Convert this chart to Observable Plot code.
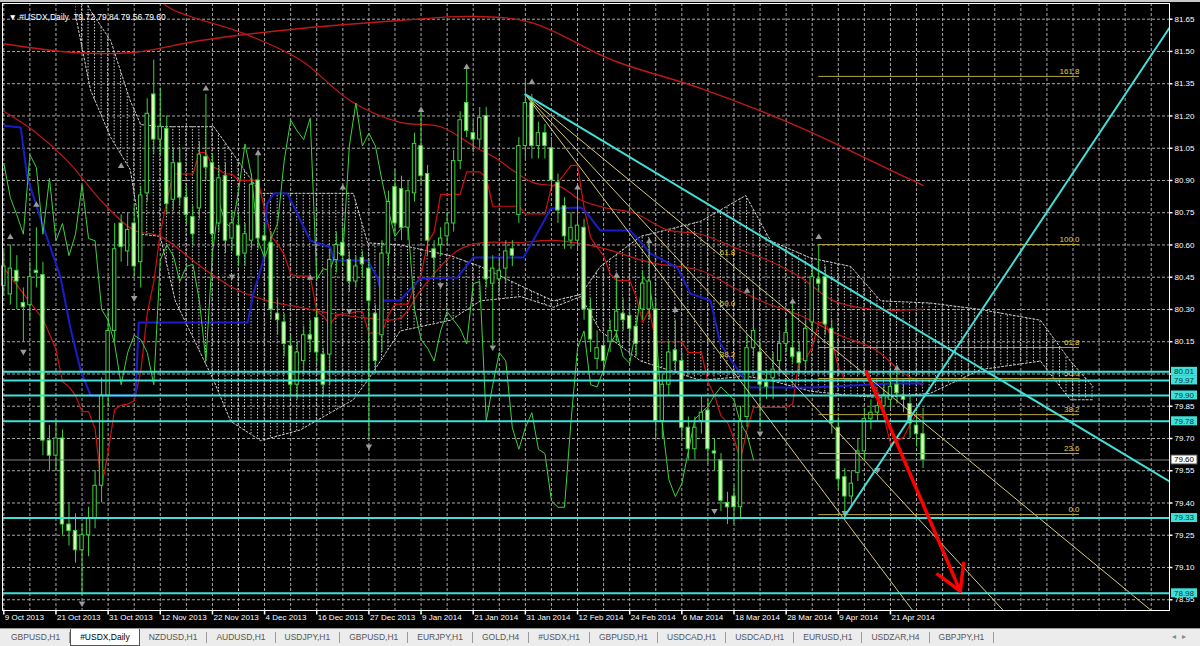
<!DOCTYPE html>
<html><head><meta charset="utf-8">
<script src="https://cdn.jsdelivr.net/npm/d3@7"></script>
<script src="https://cdn.jsdelivr.net/npm/@observablehq/plot@0.6"></script>
<style>
html,body{margin:0;padding:0;background:#000;width:1200px;height:646px;overflow:hidden;font-family:"Liberation Sans",Arial,sans-serif}
#chart{position:relative;width:1200px;height:628px;background:#000}
#topstrip{position:absolute;left:0;top:0;width:1200px;height:2px;background:#c8c8c8}
#tabs{position:relative;width:1200px;height:18px;background:#ececec;border-top:1px solid #9a9a9a;box-sizing:border-box;display:flex;align-items:center;font-size:8.5px;color:#555;padding-left:2px}
.tab{padding:0 9px;border-right:1px solid #9a9a9a;line-height:11px;white-space:nowrap}
.tab.active{background:#fff;color:#000;border:1px solid #555;border-top:none;line-height:16px;margin-top:-1px}
#arrows{position:absolute;right:8px;top:3px;color:#888;font-size:8px;letter-spacing:6px}
</style></head><body>
<div id="chart"><div id="topstrip"></div></div>
<div id="tabs"></div>
<script>
// ---------- data ----------
const dateLabels = ["9 Oct 2013","21 Oct 2013","31 Oct 2013","12 Nov 2013","22 Nov 2013","4 Dec 2013","16 Dec 2013","27 Dec 2013","9 Jan 2014","21 Jan 2014","31 Jan 2014","12 Feb 2014","24 Feb 2014","6 Mar 2014","18 Mar 2014","28 Mar 2014","9 Apr 2014","21 Apr 2014"];
const barsPerLabel = 8;
const priceTicks = [78.95,79.10,79.25,79.40,79.55,79.70,79.85,80.00,80.15,80.30,80.45,80.60,80.75,80.90,81.05,81.20,81.35,81.50,81.65];
const symbolName = "#USDX,Daily";
const lastOHLC = [79.72, 79.84, 79.56, 79.60];

const openP = [80.41,80.37,80.48,80.33,80.32,80.48,80.46,79.69,79.62,79.70,
79.30,79.27,79.18,79.25,79.33,79.48,79.90,80.20,80.70,80.57,
80.70,80.52,80.84,81.30,81.09,81.14,80.81,80.98,80.82,80.73,
80.77,81.01,80.98,80.70,80.92,80.63,80.69,80.56,80.62,80.90,
80.64,80.61,80.28,80.24,80.13,79.95,80.06,80.18,80.26,80.09,
80.09,80.53,80.61,80.53,80.43,80.54,80.49,80.28,80.18,80.56,
80.87,80.86,80.68,80.84,81.06,80.93,80.58,80.60,80.64,80.70,
80.99,81.26,81.12,81.09,81.20,80.42,80.44,80.49,80.58,80.74,
81.06,81.26,81.06,81.12,81.05,80.89,80.78,80.62,80.62,80.68,
80.30,80.07,80.13,80.15,80.20,80.28,80.27,80.22,80.30,80.30,
80.30,79.78,79.95,80.11,80.06,79.75,79.65,79.78,79.83,79.64,
79.60,79.40,79.43,79.38,79.80,80.12,80.10,79.96,79.98,80.06,
80.14,80.12,80.10,80.06,80.24,80.44,80.45,80.21,79.75,79.52,
79.43,79.54,79.64,79.79,79.82,79.85,79.88,79.95,79.90,79.86,
79.76,79.72];
const highP = [80.57,80.60,80.55,80.40,80.52,80.68,80.52,79.76,79.78,79.74,
79.40,79.35,79.30,79.38,79.55,79.98,80.30,80.70,80.74,80.75,
80.78,80.87,81.28,81.46,81.33,81.20,81.05,81.05,80.87,80.78,
81.08,81.30,81.02,80.97,80.98,80.76,80.74,80.70,80.93,81.03,
80.70,80.66,80.35,80.28,80.18,80.15,80.22,80.25,80.30,80.12,
80.58,80.66,80.68,80.57,80.55,80.57,80.53,80.32,80.62,80.85,
80.95,80.92,80.90,81.12,81.22,80.97,80.62,80.68,80.75,81.04,
81.22,81.43,81.18,81.24,81.24,80.55,80.54,80.62,80.62,81.10,
81.36,81.30,81.17,81.16,81.10,80.93,80.82,80.75,80.87,80.72,
80.35,80.20,80.18,80.25,80.46,80.35,80.32,80.27,80.48,80.60,
80.35,80.00,80.15,80.25,80.10,79.80,79.80,79.90,79.88,79.70,
79.63,79.45,79.48,79.85,80.18,80.39,80.15,80.02,80.10,80.20,
80.25,80.34,80.15,80.25,80.50,80.60,80.50,80.25,79.80,79.56,
79.55,79.70,79.84,79.88,79.90,79.95,80.00,80.03,79.95,79.90,
79.82,79.84];
const lowP = [80.36,80.32,80.30,80.15,80.25,80.40,79.62,79.55,79.55,79.25,
79.20,79.12,78.97,79.15,79.28,79.40,79.85,80.15,80.52,80.50,
80.45,80.40,80.80,81.02,81.02,80.74,80.76,80.78,80.70,80.60,
80.72,80.90,80.60,80.66,80.56,80.57,80.50,80.50,80.58,80.58,
80.55,80.25,80.18,80.08,79.90,79.88,80.00,80.10,80.05,79.90,
79.95,80.47,80.50,80.38,80.40,80.45,79.70,80.00,80.10,80.50,
80.65,80.62,80.62,80.80,80.88,80.55,80.45,80.55,80.60,80.66,
80.95,81.10,81.03,81.05,80.40,80.13,80.38,80.42,80.50,80.70,
81.00,81.00,81.00,81.00,80.85,80.70,80.58,80.58,80.58,80.25,
80.10,80.02,80.00,80.10,80.15,80.20,80.15,80.08,80.25,80.25,
79.70,79.70,79.90,80.00,79.70,79.60,79.60,79.72,79.58,79.55,
79.36,79.30,79.30,79.33,79.75,80.08,79.75,79.88,79.88,80.00,
80.10,80.05,80.00,80.02,80.20,80.38,80.18,79.72,79.46,79.35,
79.38,79.50,79.60,79.74,79.78,79.80,79.84,79.86,79.82,79.70,
79.66,79.56];
const closeP = [80.50,80.49,80.43,80.31,80.45,80.47,79.69,79.62,79.70,79.30,
79.27,79.18,79.25,79.33,79.48,79.90,80.20,80.58,80.59,80.67,
80.50,80.83,81.21,81.09,81.15,80.79,80.98,80.82,80.74,80.65,
81.02,80.96,80.65,80.91,80.62,80.70,80.55,80.65,80.88,80.63,
80.62,80.30,80.25,80.14,79.95,80.10,80.18,80.16,80.10,79.95,
80.53,80.60,80.55,80.43,80.50,80.51,80.34,80.06,80.56,80.80,
80.70,80.68,80.85,81.07,80.92,80.62,80.54,80.63,80.70,80.99,
81.18,81.13,81.09,81.19,80.44,80.49,80.48,80.57,80.55,81.06,
81.26,81.06,81.12,81.06,80.90,80.76,80.64,80.68,80.69,80.30,
80.16,80.12,80.06,80.20,80.29,80.25,80.21,80.14,80.42,80.43,
79.78,79.95,80.10,80.06,79.75,79.65,79.75,79.82,79.65,79.63,
79.41,79.38,79.38,79.78,80.12,80.20,79.95,79.94,80.02,80.14,
80.19,80.08,80.05,80.21,80.45,80.42,80.23,79.77,79.51,79.43,
79.49,79.64,79.79,79.82,79.85,79.90,79.94,79.91,79.88,79.77,
79.72,79.60];
const chikouShift = 26;   // Ichimoku lagging span
const tenkanPeriod = 9;   // Ichimoku conversion line
// tenkan values before a full window of bars is on screen
const tenkanEarly = [[-0.2,80.50],[2.6,80.39],[6.1,80.25],[8,80.115]];

// Ichimoku kijun-sen (blue), [bar, price]
const kijun = [[-0.2,81.156],[2.6,81.146],[3.6,80.914],[6.1,80.681],[8.7,80.449],[10.2,80.216],[11.8,80.016],[13.3,79.90],[20.2,79.90],[20.7,80.239],[37.4,80.239],[38.3,80.374],[39.8,80.528],[40.4,80.793],[41.4,80.839],[43.5,80.839],[45.5,80.714],[47.0,80.621],[50.1,80.588],[50.6,80.528],[55.8,80.528],[57.3,80.449],[58.2,80.342],[60.8,80.342],[63.9,80.444],[69.6,80.449],[72.0,80.542],[79.7,80.542],[81.8,80.653],[83.9,80.770],[88.5,80.774],[89.5,80.746],[91.5,80.667],[96.1,80.667],[99.2,80.560],[103.3,80.495],[105.3,80.374],[108.4,80.342],[109.9,80.142],[111.9,80.049],[114.5,79.937],[123.7,79.937],[136.5,79.956],[141,79.956]];

// red moving-average lines, [bar, price]
const redLong = [[-0.2,81.537],[10.7,81.495],[19.9,81.495],[30.2,81.551],[45.5,81.607],[60.8,81.644],[71.6,81.663],[80.8,81.635],[93.5,81.458],[106.9,81.328],[122.2,81.146],[132.9,80.993],[141,80.877]];
const redMid = [[22.5,81.78],[25.6,81.70],[37.1,81.58],[45.5,81.46],[53.2,81.27],[60.8,81.17],[67,81.15],[72.6,81.05],[75.1,81.01],[81.2,80.89],[85.4,80.87],[88.4,80.81],[92.6,80.77],[96.6,80.75],[101.8,80.67],[106.9,80.65],[111.9,80.59],[117.1,80.53],[122.2,80.45],[127.3,80.34],[133.4,80.30],[141,80.30]];
const redShort = [[-0.2,81.225],[4.6,81.13],[9.8,80.99],[14.8,80.81],[19.9,80.67],[24,80.64],[30.2,80.50],[35.2,80.40],[40.4,80.34],[45.5,80.31],[50.6,80.28],[55.8,80.26],[60.8,80.26],[63.9,80.388],[69.6,80.574],[73.6,80.611],[78.8,80.611],[84.3,80.621],[91.5,80.588],[99.2,80.518],[106.9,80.481],[111.9,80.402],[117.1,80.328],[122.2,80.272],[128.3,80.179],[133.4,80.118],[137.5,80.016],[140.9,79.946]];

// Ichimoku cloud: bar, span upper, span lower
const cloudBar  = [11,13.3,16.4,19.4,21,24,26.3,32.2,34.8,39.4,45.5,53.6,55.8,60.8,68.5,73.1,79.3,84.3,88.5,91.5,97.7,106.9,113.8,117.6,123.7,129.9,134.5,142.1,149.8,159,163.6,167.1];
const cloudUpper= [81.83,81.69,81.55,81.27,81.16,81.15,81.15,81.15,81.04,80.84,80.84,80.84,80.61,80.60,80.55,80.50,80.41,80.34,80.37,80.50,80.64,80.71,80.83,80.62,80.54,80.50,80.34,80.33,80.30,80.25,80.06,79.94];
const cloudLower= [81.67,81.32,81.10,80.95,80.65,80.64,80.34,79.97,79.78,79.69,79.74,79.88,79.97,80.20,80.25,80.34,80.36,80.31,80.36,80.20,80.06,79.97,79.99,79.97,79.92,79.90,79.89,79.91,80.02,80.06,79.88,79.88];

// fractals [bar, price]
const fractalUp = [[1,80.64],[5,80.79],[18,80.97],[31,81.33],[39,81.03],[47,80.45],[52,80.87],[64,81.23],[71,81.43],[81,81.36],[88,80.87],[94,80.46],[99,80.62],[103,80.30],[114,80.39],[121,80.34],[125,80.64],[137,80.03]];
const fractalDown = [[3,80.10],[12,78.93],[20,80.35],[35,80.45],[53,80.29],[56,79.66],[67,80.41],[75,80.12],[109,79.36],[116,79.72],[129,79.35],[134,79.55]];

// horizontal support/resistance levels and bid
const hLevels = [80.01,79.97,79.90,79.78,79.33,78.98];
const bidPrice = 79.60;

// trend lines: [bar1, price1, bar2, price2]
const trendDown = [80, 81.30, 178.8, 79.50];
const trendUp = [129, 79.34, 178.8, 81.61];

// Fibonacci fan from the 31 Jan high
const fanOrigin = [80, 81.30];
const fanRefBar = 110;
const fanLevels = ["61.8","50.0","38.2"];
const fanRefPrice = [80.55, 80.318, 80.088];

// Fibonacci retracement
const fibStartBar = 125, fibEndBar = 165;
const fibLabels = ["161.8","100.0","61.8","50.0","38.2","23.6","0.0"];
const fibPrices = [81.384,80.602,80.123,79.979,79.811,79.630,79.346];

// red projection arrow
const arrowFrom = [132.3, 80.01], arrowTo = [146.7, 78.99];

const tabNames = ["GBPUSD,H1","#USDX,Daily","NZDUSD,H1","AUDUSD,H1","USDJPY,H1","GBPUSD,H1","EURJPY,H1","GOLD,H4","#USDX,H1","GBPUSD,H1","USDCAD,H1","USDCAD,H1","EURUSD,H1","USDZAR,H4","GBPJPY,H1"];
const activeTab = 1;

// ---------- build tables ----------
const bars = openP.map((o,i)=>({k:i,o,h:highP[i],l:lowP[i],c:closeP[i]}));
const chikou = bars.filter(d=>d.k>=chikouShift).map(d=>({k:d.k-chikouShift,c:d.c}));
const tenkan = tenkanEarly.map(([k,p])=>({k,p})).concat(
  bars.filter(d=>d.k>=tenkanPeriod).map(d=>{
    const s=d.k-tenkanPeriod+1;
    return {k:d.k,p:(d3.max(highP.slice(s,d.k+1))+d3.min(lowP.slice(s,d.k+1)))/2};
  }));
const cloud = cloudBar.map((k,i)=>({k,a:cloudUpper[i],b:cloudLower[i]}));
const toPts = a=>a.map(([k,p])=>({k,p}));
const dateTicks = dateLabels.map((t,i)=>({k:i*barsPerLabel,t}));
const gridBars = d3.range(0, 179, barsPerLabel/2);
const hidden = [...hLevels, bidPrice];
const visibleTicks = priceTicks.filter(t=>!hidden.some(h=>Math.abs(h-t)<0.02));
const fanRays = fanRefPrice.map((p,i)=>({lev:fanLevels[i], slope:(p-fanOrigin[1])/(fanRefBar-fanOrigin[0])}));
const fanLines = fanRays.flatMap((r,i)=>[
  {ray:i,k:fanOrigin[0],p:fanOrigin[1]},
  {ray:i,k:180,p:fanOrigin[1]+r.slope*(180-fanOrigin[0])}
]);
const fanLabelPts = fanRays.map(r=>({lev:r.lev,k:fanRefBar+1,p:fanOrigin[1]+r.slope*(fanRefBar+1-fanOrigin[0])}));
const fib = fibLabels.map((t,i)=>({t,p:fibPrices[i]}));

const tickRight = {draw(ctx){ctx.moveTo(0,0);ctx.lineTo(3,0);}};
const tickDown = {draw(ctx){ctx.moveTo(0,0);ctx.lineTo(0,4);}};
const downTri = {draw(ctx,s){const r=Math.sqrt(s/3);ctx.moveTo(-r,-r*0.8);ctx.lineTo(r,-r*0.8);ctx.lineTo(0,r*0.9);ctx.closePath();}};
const upTri = {draw(ctx,s){const r=Math.sqrt(s/3);ctx.moveTo(-r,r*0.8);ctx.lineTo(r,r*0.8);ctx.lineTo(0,-r*0.9);ctx.closePath();}};

const GREEN="#3cd23c", BODY="#d8ffb8", RED="#c01818", CYAN="#40e0d8", FIB="#b8a640", FAN="#d8cc78", GRID="#a8a8a8";

const svg = Plot.plot({
  width:1200, height:628,
  marginLeft:2, marginRight:31, marginTop:3, marginBottom:18,
  x:{domain:[-0.2,178.8], axis:null},
  y:{domain:[78.9,81.723], axis:null},
  style:{background:"#000", color:"#fff", fontFamily:"Liberation Sans, Arial, sans-serif", fontSize:"8px"},
  marks:[
    Plot.ruleY(priceTicks,{stroke:GRID,strokeDasharray:"3,2",strokeWidth:1}),
    Plot.ruleX(gridBars,{stroke:GRID,strokeDasharray:"3,2",strokeWidth:1}),
    Plot.areaY(cloud,{x:"k",y1:"a",y2:"b",fill:"url(#hatch)",clip:true}),
    Plot.line(cloud,{x:"k",y:"a",stroke:"#d0d0d0",strokeDasharray:"2,2",strokeWidth:1,clip:true}),
    Plot.line(cloud,{x:"k",y:"b",stroke:"#d0d0d0",strokeDasharray:"2,2",strokeWidth:1,clip:true}),
    Plot.line(toPts(redLong),{x:"k",y:"p",stroke:RED,strokeWidth:1.4,curve:"catmull-rom",clip:true}),
    Plot.line(toPts(redMid),{x:"k",y:"p",stroke:RED,strokeWidth:1.2,curve:"catmull-rom",clip:true}),
    Plot.line(toPts(redShort),{x:"k",y:"p",stroke:RED,strokeWidth:1.2,curve:"catmull-rom",clip:true}),
    Plot.line(tenkan,{x:"k",y:"p",stroke:"#d01010",strokeWidth:1.2,clip:true}),
    Plot.line(toPts(kijun),{x:"k",y:"p",stroke:"#1c1cc8",strokeWidth:2,clip:true}),
    Plot.line(chikou,{x:"k",y:"c",stroke:GREEN,strokeWidth:1,clip:true}),
    Plot.ruleX(bars,{x:"k",y1:"l",y2:"h",stroke:GREEN,strokeWidth:1}),
    Plot.rect(bars,{x1:d=>d.k-0.26,x2:d=>d.k+0.26,y1:"o",y2:"c",fill:d=>d.c<d.o?BODY:"#000",stroke:GREEN,strokeWidth:1}),
    Plot.dot(toPts(fractalUp),{x:"k",y:"p",symbol:upTri,r:3.2,fill:"#9a9a9a"}),
    Plot.dot(toPts(fractalDown),{x:"k",y:"p",symbol:downTri,r:3.2,fill:"#9a9a9a"}),
    Plot.line(fanLines,{x:"k",y:"p",z:"ray",stroke:FAN,strokeWidth:1,clip:true}),
    Plot.text(fanLabelPts,{x:"k",y:"p",text:"lev",dy:-9,fill:"#e0d040",fontSize:8}),
    Plot.ruleY(fib,{y:"p",x1:fibStartBar,x2:fibEndBar,stroke:FIB,strokeWidth:1}),
    Plot.text(fib,{y:"p",x:fibEndBar,text:"t",textAnchor:"end",dy:-5,fill:"#e0d040",fontSize:8}),
    Plot.ruleY(hLevels,{stroke:CYAN,strokeWidth:2}),
    Plot.ruleY([bidPrice],{stroke:"#808080",strokeWidth:1}),
    Plot.line([{k:trendDown[0],p:trendDown[1]},{k:trendDown[2],p:trendDown[3]}],{x:"k",y:"p",stroke:CYAN,strokeWidth:2,clip:true}),
    Plot.line([{k:trendUp[0],p:trendUp[1]},{k:trendUp[2],p:trendUp[3]}],{x:"k",y:"p",stroke:CYAN,strokeWidth:2,clip:true}),
    Plot.arrow([{x1:arrowFrom[0],y1:arrowFrom[1],x2:arrowTo[0],y2:arrowTo[1]}],{x1:"x1",y1:"y1",x2:"x2",y2:"y2",stroke:"#ff0000",strokeWidth:3.5,headLength:12}),
    Plot.frame({stroke:"#ffffff",strokeWidth:1}),
    Plot.dot(priceTicks,{y:d=>d,frameAnchor:"right",symbol:tickRight,stroke:"#fff",r:3}),
    Plot.text(visibleTicks,{y:d=>d,frameAnchor:"right",dx:5,textAnchor:"start",text:d=>d.toFixed(2),fill:"#fff",fontSize:8}),
    Plot.dot(dateTicks,{x:"k",frameAnchor:"bottom",symbol:tickDown,stroke:"#fff",r:3}),
    Plot.text(dateTicks,{x:"k",frameAnchor:"bottom",dy:9,dx:1,textAnchor:"start",text:"t",fill:"#fff",fontSize:8}),
    Plot.text([`\u25BC ${symbolName}  ${lastOHLC.map(v=>v.toFixed(2)).join(" ")}`],{frameAnchor:"top-left",dx:6,dy:10,textAnchor:"start",fill:"#fff",fontSize:8.5})
  ]
});

const xs = svg.scale("x"), ys = svg.scale("y");
// hatch pattern for the cloud, spaced one bar apart
const step = xs.apply(1)-xs.apply(0);
const defs = d3.select(svg).insert("defs",":first-child");
const pat = defs.append("pattern").attr("id","hatch").attr("patternUnits","userSpaceOnUse")
  .attr("width",step).attr("height",3).attr("x",xs.apply(0)-step/2);
pat.append("line").attr("x1",step/2).attr("x2",step/2).attr("y1",0).attr("y2",1.5).attr("stroke","#cfcfcf").attr("stroke-width",1);

// price-level tags on the right axis, placed with the y scale
const xEdge = xs.range[1];
const tags = d3.select(svg).append("g").attr("font-size",8).attr("font-family","Liberation Sans, Arial, sans-serif");
const tagData = hLevels.map(p=>({p,bg:CYAN,fg:"#083838",st:"none"})).concat([{p:bidPrice,bg:"#fff",fg:"#000",st:"#505050"}]);
tagData.forEach(d=>{
  const y=ys.apply(d.p);
  tags.append("rect").attr("x",xEdge+2).attr("y",y-4.5).attr("width",26).attr("height",9).attr("fill",d.bg).attr("stroke",d.st);
  tags.append("text").attr("x",xEdge+15).attr("y",y).attr("dy","0.35em").attr("text-anchor","middle").attr("fill",d.fg).text(d.p.toFixed(2));
});

document.getElementById("chart").appendChild(svg);

// tab bar
const tabs = document.getElementById("tabs");
tabNames.forEach((n,i)=>{
  const s=document.createElement("div");
  s.className="tab"+(i===activeTab?" active":"");
  s.textContent=n; tabs.appendChild(s);
});
const ar=document.createElement("div"); ar.id="arrows"; ar.textContent="\u25C2\u25B8"; tabs.appendChild(ar);
</script></body></html>
